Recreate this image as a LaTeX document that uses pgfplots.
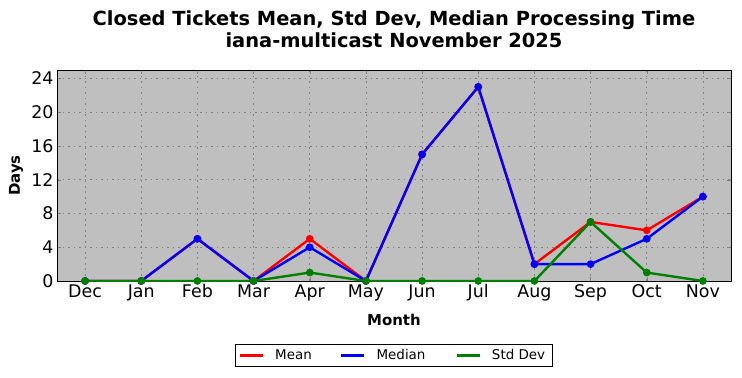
\documentclass[border=0pt]{standalone}
\usepackage{pgfplots}
\pgfplotsset{compat=1.18}
\usepackage{fontspec}
\setmainfont{DejaVu Sans}
\begin{document}
\begin{tikzpicture}[x=1bp,y=1bp]
\useasboundingbox (-57bp,-97bp) rectangle (685bp,281bp);
\begin{axis}[
  at={(0,0)}, anchor=south west,
  scale only axis, width=674bp, height=211bp,
  xmin=-0.5, xmax=11.5, ymin=0, ymax=25,
  xtick={0,...,11},
  xticklabels={Dec,Jan,Feb,Mar,Apr,May,Jun,Jul,Aug,Sep,Oct,Nov},
  ytick={0,4,8,12,16,20,24},
  tick align=inside, tick pos=both,
  major tick length=4bp,
  axis background/.style={fill=black!25},
  axis line style={line width=1pt},
  grid=major, grid style={black!50, dash pattern=on 1.6bp off 3.9bp, line width=0.8pt},
  tick label style={font=\fontsize{17.5}{20}\selectfont},
  /pgf/number format/assume math mode=true,
  xlabel={\textbf{Month}}, ylabel={\textbf{Days}},
  label style={font=\fontsize{15}{17}\selectfont},
  xlabel style={at={(axis description cs:0.5,0)}, anchor=center, yshift=-39bp},
  ylabel style={at={(axis description cs:-0.0608,0.5)}, anchor=center},
  title={\textbf{Closed Tickets Mean, Std Dev, Median Processing Time}\\\textbf{iana-multicast November 2025}},
  title style={font=\fontsize{19.5}{22}\selectfont, align=center, at={(axis description cs:0.5,1)}, anchor=south, yshift=13bp},
  legend columns=3,
  legend style={at={(axis description cs:0.5,-0.353)}, anchor=center, draw=black, line width=0.8pt,
    font=\fontsize{13.5}{15}\selectfont, inner sep=3.5bp},
  legend cell align=left,
  legend image code/.code={\draw[#1, mark=none] (0bp,0bp) -- (23bp,0bp);},
  every axis plot/.append style={line width=2.4pt, mark=*, mark size=2.6bp, mark options={draw=black, line width=0.6pt}},
]
\addplot[red, mark options={fill=red}] coordinates {(0,0)(1,0)(2,5)(3,0)(4,5)(5,0)(6,15)(7,23)(8,2)(9,7)(10,6)(11,10)};
\addlegendentry{\makebox[72bp][l]{\hspace*{9bp}Mean}}
\addplot[blue, mark options={fill=blue}] coordinates {(0,0)(1,0)(2,5)(3,0)(4,4)(5,0)(6,15)(7,23)(8,2)(9,2)(10,5)(11,10)};
\addlegendentry{\makebox[86bp][l]{\hspace*{9bp}Median}}
\addplot[green!50!black, mark options={fill=green!50!black}] coordinates {(0,0)(1,0)(2,0)(3,0)(4,1)(5,0)(6,0)(7,0)(8,0)(9,7)(10,1)(11,0)};
\addlegendentry{\hspace*{9bp}Std Dev\hspace*{2bp}}
\end{axis}
\end{tikzpicture}
\end{document}
